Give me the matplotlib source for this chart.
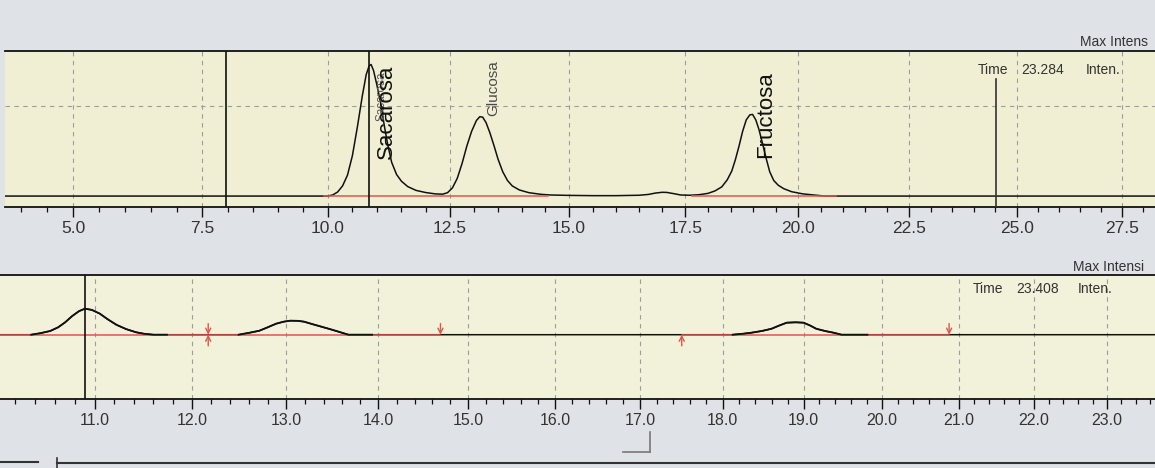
import numpy as np
import matplotlib.pyplot as plt
from matplotlib.lines import Line2D
from matplotlib.ticker import MultipleLocator, FormatStrFormatter

plt.rcParams['font.family'] = ['Liberation Sans', 'DejaVu Sans']

# canal superior: tiempo (min) e intensidad sobre la linea base
t_sup = [3.7, 9.9, 10.0, 10.1, 10.2, 10.3, 10.4, 10.5, 10.6, 10.7, 10.78, 10.84, 10.88,
         10.93, 11.0, 11.08, 11.15, 11.22, 11.3, 11.4, 11.5, 11.63, 11.8, 12.0, 12.2,
         12.35, 12.45, 12.55, 12.65, 12.75, 12.85, 12.95, 13.05, 13.12, 13.18, 13.25,
         13.33, 13.42, 13.5, 13.6, 13.7, 13.8, 13.95, 14.15, 14.4, 14.6, 15.0, 15.5,
         16.0, 16.5, 16.7, 16.85, 17.0, 17.1, 17.25, 17.4, 17.6, 17.8, 18.0, 18.15,
         18.3, 18.42, 18.52, 18.6, 18.68, 18.76, 18.84, 18.92, 18.98, 19.05, 19.12,
         19.2, 19.28, 19.36, 19.45, 19.55, 19.67, 19.85, 20.1, 20.4, 20.6, 28.3]
i_sup = [0, 0, 0, 8, 30, 75, 155, 300, 510, 740, 900, 965, 975,
         930, 820, 680, 520, 380, 250, 160, 110, 70, 42, 26, 16,
         14, 25, 60, 130, 240, 370, 480, 560, 588, 585, 545,
         470, 370, 275, 180, 115, 75, 45, 25, 13, 8, 5, 3,
         3, 6, 12, 22, 28, 27, 18, 8, 6, 10, 20, 38,
         68, 120, 185, 270, 370, 480, 565, 602, 605, 565, 495,
         390, 280, 180, 115, 80, 55, 32, 16, 6, 0, 0]
base_sup = [(9.92, 14.56), (17.64, 20.84)]
cursores_sup = [7.97, 10.83]
cursor_der_sup = 24.52
etiquetas = ['Sacarosa', 'Fructosa']
etiq_t = [10.97, 19.04]
etiq_y = [275, 285]

# canal inferior
t_inf = [9.9, 10.36, 10.45, 10.55, 10.63, 10.7, 10.77, 10.84, 10.9, 10.97, 11.05, 11.13,
         11.22, 11.32, 11.42, 11.5, 11.6, 11.74,
         12.49, 12.6, 12.71, 12.8, 12.89, 12.97, 13.04, 13.12, 13.19, 13.28, 13.38,
         13.47, 13.56, 13.67, 13.93,
         18.12, 18.25, 18.35, 18.48, 18.6, 18.7, 18.79, 18.9, 19.0, 19.08, 19.16,
         19.27, 19.38, 19.48, 19.81, 23.8]
i_inf = [0, 0, 1.2, 3, 6, 10, 15, 19, 21, 20, 17, 12.5,
         8, 4.5, 2, 0.8, 0, 0,
         0, 1.5, 3.2, 6, 8.9, 10.5, 11.3, 11.2, 10.5, 8.5, 6.4,
         4.5, 2.5, 0, 0,
         0, 0.8, 1.6, 3, 4.8, 7.5, 9.7, 10, 9.7, 7.5, 4.8,
         3, 1.6, 0, 0, 0]
base_inf = [(9.9, 14.69), (17.5, 20.87)]
picos_inf = [(10.3, 11.76), (12.45, 13.95), (18.1, 19.85)]
flechas_abajo = [12.17, 14.69, 20.87]
flechas_arriba = [12.17, 17.5]
cursor_inf = 10.90

negro = '#111111'
rojo = '#e2554f'
amarillo = '#f1efd3'
fondo = '#dfe2e6'
gris = '#9c9c9c'


def escala(k):
    return (lambda t: t / (1 + k * t), lambda u: u / (1 - k * u))


fig = plt.figure(figsize=(11.55, 4.68), dpi=100, facecolor=fondo)

# ---- panel superior
ax1 = fig.add_axes([0.0043, 0.558, 0.9957, 0.333], facecolor=amarillo)
ax1.set_xscale('function', functions=escala(0.005525))
ax1.set_xlim(3.7, 28.3)
ax1.set_ylim(-80, 1075)
ax1.plot(t_sup, i_sup, color=negro, lw=1.1, zorder=3)
for a, b in base_sup:
    ax1.plot([a, b], [0, 0], color=rojo, lw=1.1, zorder=4)
for c in cursores_sup:
    ax1.axvline(c, color=negro, lw=1.2, zorder=5)
ax1.axvline(cursor_der_sup, ymin=0, ymax=0.82, color='#333333', lw=1.2, zorder=5)
for nombre, t, y in zip(etiquetas, etiq_t, etiq_y):
    ax1.text(t, y, nombre, rotation=90, fontsize=16, ha='left', va='bottom',
             color=negro, zorder=6)
ax1.text(10.97, 560, 'Sacarosa', rotation=90, fontsize=8.5, ha='left', va='bottom',
         color='#555555', zorder=5)
ax1.text(13.25, 593, 'Glucosa', rotation=90, fontsize=11, ha='left', va='bottom',
         color='#4a4a4a', zorder=6)

ax1.xaxis.set_major_locator(MultipleLocator(2.5))
ax1.xaxis.set_minor_locator(MultipleLocator(0.5))
ax1.xaxis.set_major_formatter(FormatStrFormatter('%.1f'))
ax1.set_yticks([664])
ax1.grid(True, axis='both', which='major', color=gris, ls=(0, (4, 4)), lw=0.8)
ax1.text(0.846, 0.88, 'Time', transform=ax1.transAxes, fontsize=10, color='#333333', va='center')
ax1.text(0.884, 0.88, '23.284', transform=ax1.transAxes, fontsize=10, color='#333333', va='center')
ax1.text(0.940, 0.88, 'Inten.', transform=ax1.transAxes, fontsize=10, color='#333333', va='center')
ax1.text(0.935, 1.01, 'Max Intens', transform=ax1.transAxes, fontsize=10,
         color='#333333', va='bottom', clip_on=False)

# ---- panel inferior
ax2 = fig.add_axes([0.0, 0.147, 1.0, 0.265], facecolor='#f2f1da')
ax2.set_xscale('function', functions=escala(0.01652))
ax2.set_xlim(10.05, 23.67)
ax2.set_ylim(-52, 48)
t_inf_a = np.array(t_inf)
i_inf_a = np.array(i_inf)
ax2.plot(t_inf, i_inf, color=negro, lw=1.1, zorder=2)
for a, b in base_inf:
    ax2.plot([a, b], [0, 0], color=rojo, lw=1.1, zorder=3)
for a, b in picos_inf:
    m = (t_inf_a >= a) & (t_inf_a <= b)
    ax2.plot(t_inf_a[m], i_inf_a[m], color=negro, lw=1.3, zorder=4)
for t in flechas_abajo:
    ax2.annotate('', xy=(t, 0), xytext=(t, 9),
                 arrowprops=dict(arrowstyle='->', color=rojo, lw=1, mutation_scale=9,
                                 shrinkA=0, shrinkB=0), zorder=5)
for t in flechas_arriba:
    ax2.annotate('', xy=(t, 0), xytext=(t, -9),
                 arrowprops=dict(arrowstyle='->', color=rojo, lw=1, mutation_scale=9,
                                 shrinkA=0, shrinkB=0), zorder=5)
ax2.axvline(cursor_inf, color=negro, lw=1.2, zorder=5)

ax2.xaxis.set_major_locator(MultipleLocator(1.0))
ax2.xaxis.set_minor_locator(MultipleLocator(0.2))
ax2.xaxis.set_major_formatter(FormatStrFormatter('%.1f'))
ax2.grid(True, axis='x', which='major', color=gris, ls=(0, (4, 4)), lw=0.8)
ax2.text(0.842, 0.89, 'Time', transform=ax2.transAxes, fontsize=10, color='#333333', va='center')
ax2.text(0.880, 0.89, '23.408', transform=ax2.transAxes, fontsize=10, color='#333333', va='center')
ax2.text(0.933, 0.89, 'Inten.', transform=ax2.transAxes, fontsize=10, color='#333333', va='center')
ax2.text(0.929, 1.01, 'Max Intensi', transform=ax2.transAxes, fontsize=10,
         color='#333333', va='bottom', clip_on=False)

for ax, tam in ((ax1, 12.5), (ax2, 11.5)):
    for lado in ('left', 'right'):
        ax.spines[lado].set_visible(False)
    for lado in ('top', 'bottom'):
        ax.spines[lado].set_color(negro)
        ax.spines[lado].set_linewidth(1.3)
    ax.tick_params(axis='x', which='major', direction='out', length=7, width=1,
                   color=negro, labelsize=tam, labelcolor='#333333', pad=3)
    ax.tick_params(axis='x', which='minor', direction='out', length=3.5, width=0.9,
                   color=negro)
    ax.tick_params(axis='y', left=False, labelleft=False, length=0)

# bordes de la ventana
fig.add_artist(Line2D([0, 0.033], [0.0128, 0.0128], color='#333333', lw=1.5))
fig.add_artist(Line2D([0.049, 1], [0.0107, 0.0107], color='#333333', lw=1.5))
fig.add_artist(Line2D([0.049, 0.049], [0, 0.0214], color='#333333', lw=1.2))
fig.add_artist(Line2D([0.563, 0.563], [0.034, 0.077], color='#777777', lw=1.2))
fig.add_artist(Line2D([0.539, 0.563], [0.034, 0.034], color='#777777', lw=1.2))

fig.savefig('out.png', dpi=100, facecolor=fondo)
